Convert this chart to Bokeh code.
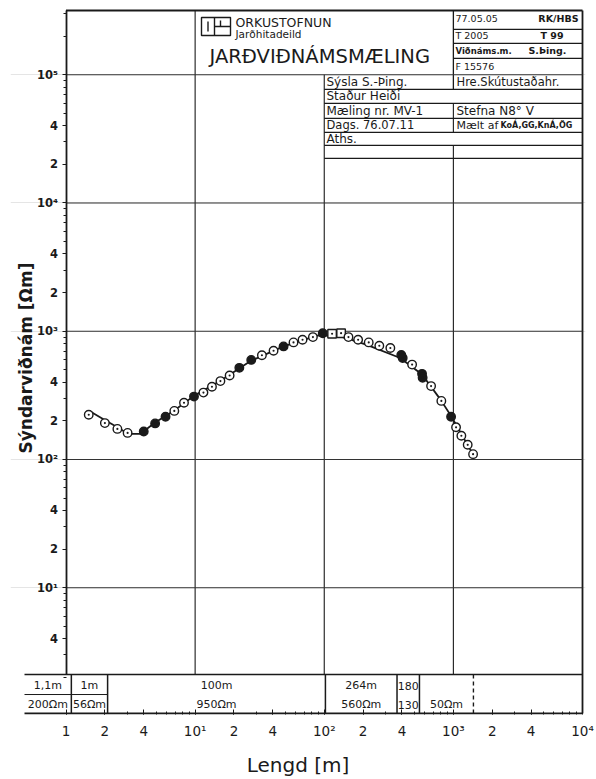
import numpy as np
from bokeh.plotting import figure
from bokeh.models import LogAxis, FixedTicker, ColumnDataSource, Range1d
from bokeh.core.properties import value
from bokeh.embed import file_html
from bokeh.resources import INLINE

# ------------------------------------------------------------------ data
# field measurements: AB/2 [m] and apparent resistivity [Ohm m]
ab2 = [1.5, 2.0, 2.5, 3.0, 4.0, 4.9, 5.9, 6.9, 8.2, 9.8,
       11.6, 13.5, 15.7, 18.5, 22, 27.2, 32.9, 40.5, 48.4, 57.8,
       67.9, 81.7, 97.4, 115, 135, 154, 183, 221, 267, 325,
       395, 405, 479, 572, 578, 672, 807, 960, 1049, 1153,
       1291, 1421]
rho_a = [223, 192, 173, 161, 165, 191, 215, 239, 277, 309,
         332, 369, 408, 451, 518, 597, 649, 704, 761, 818,
         857, 899, 965, 956, 965, 899, 857, 818, 770, 739,
         652, 618, 549, 465, 433, 373, 286, 215, 178, 153,
         130, 110]
filled_idx = [4, 5, 6, 9, 14, 15, 18, 22, 30, 31, 33, 34, 37]
square_idx = [23, 24]

# model (theoretical) curve
model_x = [1.52, 1.95, 2.5, 3.04, 3.75, 4.9, 6.8, 9.8, 15.6, 26.7,
           48.4, 87.8, 105, 130, 150, 214, 388, 572, 793, 977, 1436]
model_y = [239, 206, 178, 158, 158, 194, 239, 313, 408, 583,
           761, 925, 930, 915, 880, 783, 618, 459, 294, 212, 107]

# layered model shown in the table below the plot
thickness = [1.1, 1.0, 100, 264, 180]
thick_lbl = ["1,1m", "1m", "100m", "264m", "180", ""]
res_lbl = ["200\u03a9m", "56\u03a9m", "950\u03a9m", "560\u03a9m", "130", "50\u03a9m"]
max_spread = 1430

# axis ticks
x_major = [1, 2, 4, 10, 20, 40, 100, 200, 400, 1000, 2000, 4000, 10000]
x_major_lbl = ["1", "2", "4", "10\u00b9", "2", "4", "10\u00b2", "2", "4",
               "10\u00b3", "2", "4", "10\u2074"]
y_major = [4, 10, 20, 40, 100, 200, 400, 1000, 2000, 4000, 10000, 20000,
           40000, 100000]
y_major_lbl = ["4", "10\u00b9", "2", "4", "10\u00b2", "2", "4", "10\u00b3", "2",
               "4", "10\u2074", "2", "4", "10\u2075"]
decades = [10, 100, 1000, 10000, 100000]

# ------------------------------------------------------------------ layout
W, H = 596, 779
FL, FR, FT, FB = 10, 585, 8, 715
X0PX, XK = 65.5, 129.125      # pixel of x=1, pixels per decade
Y1PX, YK = 588.0, 128.425     # pixel of y=10, pixels per decade
FONT = "DejaVu Sans"
INK = "#1a1a1a"


def px2x(px):
    return 10 ** ((px - X0PX) / XK)


def px2y(py):
    return 10 ** (1 - (py - Y1PX) / YK)


p = figure(width=W, height=H, x_axis_type="log", y_axis_type="log",
           x_range=Range1d(px2x(FL), px2x(FR)),
           y_range=Range1d(px2y(FB), px2y(FT)),
           y_axis_location=None, toolbar_location=None, output_backend="svg",
           min_border_left=FL, min_border_right=W - FR,
           min_border_top=FT, min_border_bottom=H - FB, title=None)
p.outline_line_color = None
p.xgrid.visible = False
p.background_fill_color = "white"
p.border_fill_color = "white"

# bottom axis
xa = p.xaxis[0]
xa.ticker = FixedTicker(ticks=x_major,
                        minor_ticks=[m * d for d in [1, 10, 100, 1000] for m in range(1, 10)])
xa.major_label_overrides = {float(v): s for v, s in zip(x_major, x_major_lbl)}
xa.bounds = (1, 10000)
xa.axis_line_color = None
xa.major_tick_in, xa.major_tick_out = 5, 0
xa.minor_tick_in, xa.minor_tick_out = 3, 0
xa.major_tick_line_color = INK
xa.minor_tick_line_color = INK
xa.major_label_text_font = FONT
xa.major_label_text_font_size = "13.5px"
xa.major_label_text_color = INK
xa.major_label_standoff = 8
xa.axis_label = "Lengd [m]"
xa.axis_label_text_font = FONT
xa.axis_label_text_font_size = "20px"
xa.axis_label_text_font_style = "normal"
xa.axis_label_text_color = INK
xa.axis_label_standoff = 11

# left axis at x = 1
table_top = px2y(675)
ya = LogAxis(fixed_location=1,
             ticker=FixedTicker(ticks=y_major,
                                minor_ticks=[m * d for d in [1, 10, 100, 1000, 10000, 100000]
                                             for m in range(1, 10)]),
             bounds=(table_top, px2y(10)))
ya.major_label_overrides = {float(v): s for v, s in zip(y_major, y_major_lbl)}
ya.axis_line_color = INK
ya.axis_line_width = 1.8
ya.major_tick_in, ya.major_tick_out = 0, 4
ya.minor_tick_in, ya.minor_tick_out = 0, 3
ya.major_tick_line_color = INK
ya.minor_tick_line_color = INK
ya.major_label_text_font = FONT
ya.major_label_text_font_size = "11.5px"
ya.major_label_text_font_style = "bold"
ya.major_label_text_color = INK
ya.major_label_standoff = 4
p.add_layout(ya, "left")

seg = dict(x0=[], y0=[], x1=[], y1=[], w=[])


def hline(py, x0, x1, w=1.5):
    seg["x0"].append(x0); seg["x1"].append(x1)
    seg["y0"].append(px2y(py)); seg["y1"].append(px2y(py)); seg["w"].append(w)


def vline(x, py0, py1, w=1.5):
    seg["x0"].append(x); seg["x1"].append(x)
    seg["y0"].append(px2y(py0)); seg["y1"].append(px2y(py1)); seg["w"].append(w)


x_left_table = px2x(24)
# outer frame
hline(10, 1, 10000, 1.8)
vline(10000, 10, 714, 1.8)
# vertical decade lines (interrupted by the title blocks)
vline(10, 675, 10, 1.1)
vline(100, 675, 74.3, 1.1)
vline(1000, 675, 145, 1.1)
vline(1000, 132, 103, 1.1)
vline(1000, 89, 10, 1.3)
# title block rows
for py in [29, 43, 58]:
    hline(py, 1000, 10000, 1.3)
for py in [89, 103, 118, 132, 145, 158]:
    hline(py, 100, 10000, 1.3)
# table below the plot
hline(675, x_left_table, 10000, 1.6)
hline(695, x_left_table, 2.1, 1.0)
hline(714, x_left_table, 10000, 1.8)
depths = np.cumsum(thickness)
for d in depths:
    vline(d, 675, 714, 1.5)

p.segment(x0="x0", y0="y0", x1="x1", y1="y1", line_width="w", line_color=INK,
          source=ColumnDataSource(seg))
# horizontal decade grid lines
p.segment(x0=[1] * len(decades), x1=[10000] * len(decades), y0=decades, y1=decades,
          line_color="#333333", line_width=1.1)
p.segment(x0=[max_spread], y0=[table_top], x1=[max_spread], y1=[px2y(714)],
          line_width=1.4, line_color=INK, line_dash="4 3")

# logo
p.quad(left=[px2x(201)], right=[px2x(230)], top=[px2y(17)], bottom=[px2y(35)],
       fill_color=None, line_color=INK, line_width=1.4)
p.segment(x0=[px2x(214), px2x(207.5), px2x(214), px2x(220)],
          x1=[px2x(214), px2x(207.5), px2x(230), px2x(220)],
          y0=[px2y(17), px2y(21), px2y(26), px2y(20)],
          y1=[px2y(35), px2y(31), px2y(26), px2y(26)],
          line_color=INK, line_width=1.4)

# table texts
edges = [x_left_table] + list(depths) + [max_spread]
cx = [np.sqrt(edges[i] * edges[i + 1]) for i in range(len(edges) - 1)]
p.text(x=cx, y=[px2y(686)] * len(cx), text=thick_lbl, text_font=value(FONT),
       text_font_size="11px", text_align="center", text_baseline="middle",
       text_color=INK)
p.text(x=cx, y=[px2y(705)] * len(cx), text=res_lbl, text_font=value(FONT),
       text_font_size="11px", text_align="center", text_baseline="middle",
       text_color=INK)

# title block texts: (text, px, py, size, align, style)
title_texts = [
    ("ORKUSTOFNUN", 235, 22, "12.5px", "left", "normal"),
    ("Jar\u00f0hitadeild", 235, 33.5, "10.5px", "left", "normal"),
    ("JAR\u00d0VI\u00d0N\u00c1MSM\u00c6LING", 209, 56, "19.5px", "left", "normal"),
    ("77.05.05", 455, 18, "9.5px", "left", "normal"),
    ("RK/HBS", 578, 18, "9.5px", "right", "bold"),
    ("T 2005", 455, 35, "9.5px", "left", "normal"),
    ("T 99", 540, 35, "9.5px", "left", "bold"),
    ("Vi\u00f0n\u00e1ms.m.", 455, 50.5, "8.5px", "left", "bold"),
    ("S.\u00deing.", 528, 50.5, "9.5px", "left", "bold"),
    ("F 15576", 455, 66, "9.5px", "left", "normal"),
    ("S\u00fdsla S.-\u00deing.", 326, 82, "12px", "left", "normal"),
    ("Hre.Sk\u00fatusta\u00f0ahr.", 456, 82, "11.5px", "left", "normal"),
    ("Sta\u00f0ur Hei\u00f0i", 326, 96, "12px", "left", "normal"),
    ("M\u00e6ling nr. MV-1", 326, 110.5, "12px", "left", "normal"),
    ("Stefna N8\u00b0 V", 456, 110.5, "12px", "left", "normal"),
    ("Dags. 76.07.11", 326, 125, "11.5px", "left", "normal"),
    ("M\u00e6lt af", 456, 125, "11px", "left", "normal"),
    ("Ko\u00c1,GG,Kn\u00c1,\u00d6G", 500, 125.5, "8px", "left", "bold"),
    ("Aths.", 326, 138.5, "12px", "left", "normal"),
]
for t, px, py, fs, al, st in title_texts:
    p.text(x=[px2x(px)], y=[px2y(py)], text=[t], text_font=value(FONT),
           text_font_size=fs, text_align=al, text_baseline="middle",
           text_font_style=st, text_color=INK)

# y axis title
p.text(x=[px2x(25)], y=[px2y(358)], text=["S\u00fdndarvi\u00f0n\u00e1m [\u03a9m]"],
       angle=np.pi / 2, text_font=value(FONT), text_font_size="17px",
       text_font_style="bold", text_align="center", text_baseline="middle",
       text_color=INK)

# model curve and measurements
p.line(model_x, model_y, line_color=INK, line_width=1.8)
markers = ["square_dot" if i in square_idx else "circle_dot" for i in range(len(ab2))]
fills = [INK if i in filled_idx else "white" for i in range(len(ab2))]
src = ColumnDataSource(dict(x=ab2, y=rho_a, m=markers, f=fills))
p.scatter("x", "y", marker="m", fill_color="f", line_color=INK, line_width=1.4,
          size=8.5, source=src)

open("out.html", "w").write(file_html(p, INLINE))
